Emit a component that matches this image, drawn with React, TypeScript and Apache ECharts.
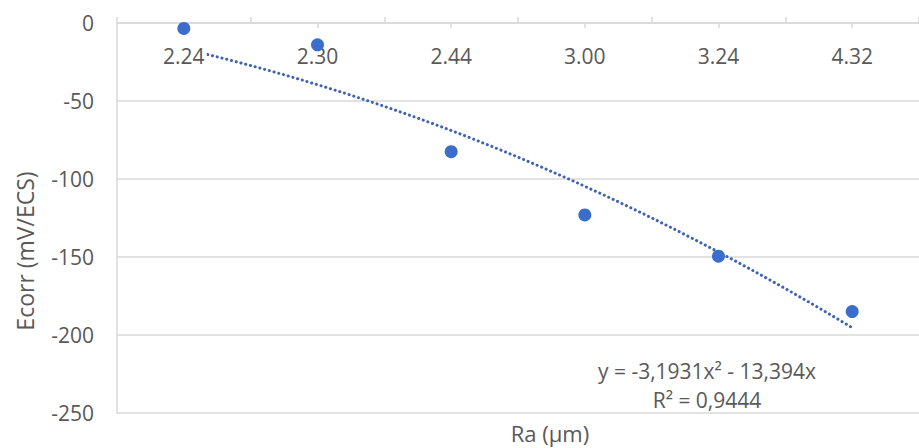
import React, { useEffect, useRef } from "react";
import * as echarts from "echarts";

const categories = ["2.24", "2.30", "2.44", "3.00", "3.24", "4.32"];
const ecorr = [-3.5, -14, -82.5, -123, -149.5, -185];
const yTicks = { min: -250, max: 0, interval: 50 };
const trendA = -3.1931;
const trendB = -13.394;
const equationLines = ["y = -3,1931x² - 13,394x", "R² = 0,9444"];
const xTitle = "Ra (µm)";
const yTitle = "Ecorr (mV/ECS)";

const FONT = "'Open Sans', 'DejaVu Sans', sans-serif";
const TEXT = "#595959";
const GRID = "#d9d9d9";
const BLUE = "#3b6dcc";

export default function App() {
  const ref = useRef<HTMLDivElement>(null);
  useEffect(() => {
    if (!ref.current) return;
    const chart = echarts.init(ref.current, undefined, { renderer: "svg" });
    const scatterData = ecorr.map((v, i) => [i + 1, v]);
    const trend: number[][] = [];
    for (let k = 0; k <= 50; k++) {
      const x = 1 + k * 0.1;
      trend.push([x, trendA * x * x + trendB * x]);
    }
    chart.setOption({
      animation: false,
      backgroundColor: "#ffffff",
      grid: { left: 117, top: 23, width: 816, height: 390, containLabel: false },
      xAxis: [
        {
          type: "category",
          data: categories,
          position: "top",
          boundaryGap: true,
          z: 2,
          axisLine: { show: true, onZero: false, lineStyle: { color: GRID, width: 1.5 } },
          axisTick: { show: true, inside: true, alignWithLabel: true, length: 5, lineStyle: { color: GRID, width: 1.5 } },
          axisLabel: {
            inside: true,
            margin: 22,
            fontSize: 21,
            color: TEXT,
            fontFamily: FONT,
            backgroundColor: "#ffffff",
            padding: [0, 2],
          },
          splitLine: { show: false },
        },
        {
          type: "category",
          data: categories,
          position: "top",
          boundaryGap: true,
          axisLine: { show: false, onZero: false },
          axisTick: { show: true, inside: false, length: 6, lineStyle: { color: GRID, width: 1.5 } },
          axisLabel: { show: false },
          splitLine: { show: false },
        },
        { type: "value", min: 0.5, max: 6.5, show: false },
      ],
      yAxis: {
        type: "value",
        min: yTicks.min,
        max: yTicks.max,
        interval: yTicks.interval,
        axisLine: { show: true, onZero: false, lineStyle: { color: GRID, width: 1.5 } },
        axisTick: { show: false },
        axisLabel: { margin: 23, fontSize: 21, color: TEXT, fontFamily: FONT },
        splitLine: { show: true, lineStyle: { color: GRID, width: 1.5 } },
      },
      series: [
        {
          type: "line",
          xAxisIndex: 2,
          data: trend,
          showSymbol: false,
          symbol: "none",
          z: 1,
          lineStyle: { color: "#3d63b4", width: 3, type: [0.1, 4.8], cap: "round" },
        },
        {
          type: "scatter",
          xAxisIndex: 2,
          data: scatterData,
          symbolSize: 13,
          z: 3,
          itemStyle: { color: BLUE, opacity: 1 },
        },
      ],
      graphic: [
        {
          type: "text",
          x: 707,
          y: 371,
          style: { text: equationLines[0], fontSize: 21, fontFamily: FONT, fill: TEXT, textAlign: "center", textVerticalAlign: "middle" },
        },
        {
          type: "text",
          x: 707,
          y: 400,
          style: { text: equationLines[1], fontSize: 21, fontFamily: FONT, fill: TEXT, textAlign: "center", textVerticalAlign: "middle" },
        },
        {
          type: "text",
          x: 550,
          y: 433,
          style: { text: xTitle, fontSize: 22, fontFamily: FONT, fill: TEXT, textAlign: "center", textVerticalAlign: "middle" },
        },
        {
          type: "text",
          x: 25,
          y: 251,
          rotation: Math.PI / 2,
          style: { text: yTitle, fontSize: 23, fontFamily: FONT, fill: TEXT, textAlign: "center", textVerticalAlign: "middle" },
        },
      ],
    });
    return () => chart.dispose();
  }, []);
  return (
    <div
      ref={ref}
      style={{ position: "fixed", left: 0, top: 0, width: 919, height: 448, background: "#fff" }}
    />
  );
}
